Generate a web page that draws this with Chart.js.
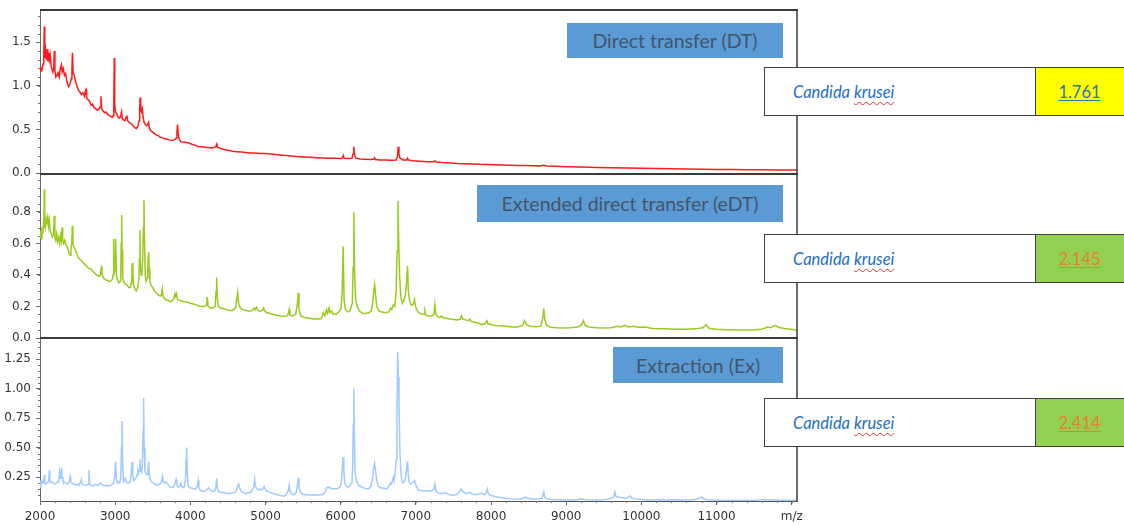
<!DOCTYPE html>
<html>
<head>
<meta charset="utf-8">
<script src="https://cdn.jsdelivr.net/npm/chart.js@4.4.1/dist/chart.umd.min.js"></script>
<style>
  body { margin: 0; background: #fff; width: 1124px; height: 526px; overflow: hidden; position: relative; font-family: Lato, "Open Sans", sans-serif; }
  canvas { position: absolute; left: 0; }
  .tag { position: absolute; background: #5b9bd5; color: #44546a; font-size: 19.5px; display: flex; align-items: center; justify-content: center; z-index: 2; }
  .result { position: absolute; left: 764px; width: 372px; height: 47px; border: 1.5px solid #3f3f3f; background: #fff; display: flex; z-index: 3; }
  .result .name { width: 242px; padding-left: 28px; border-right: 1.5px solid #3f3f3f; display: flex; align-items: center; font-style: italic; font-size: 16.5px; color: #1f6fc1; }
  .result .name span { text-decoration: underline wavy #e03030; text-decoration-thickness: 1px; text-underline-offset: 3px; }
  .result .score { flex: 1; display: flex; align-items: center; justify-content: center; font-size: 16.5px; text-decoration: underline; text-underline-offset: 2px; padding-right: 14px; }
</style>
</head>
<body>
<canvas id="c1" width="830" height="191" style="top:-4px"></canvas>
<canvas id="c2" width="830" height="192" style="top:160px"></canvas>
<canvas id="c3" width="830" height="202" style="top:324px"></canvas>

<script>
// m/z axis
const xMin = 2000, xMax = 12070;
const xTicks = [2000, 3000, 4000, 5000, 6000, 7000, 8000, 9000, 10000, 11000, 12000];
const xTickLabels = ['2000', '3000', '4000', '5000', '6000', '7000', '8000', '9000', '10000', '11000', 'm/z'];

// panel titles and identification results
const methodNames = ['Direct transfer (DT)', 'Extended direct transfer (eDT)', 'Extraction (Ex)'];
const speciesGenus = ['Candida', 'Candida', 'Candida'];
const speciesName = ['krusei', 'krusei', 'krusei'];
const scoreValues = ['1.761', '2.145', '2.414'];

// y ticks per panel
const yTicksDT = [0, 0.5, 1.0, 1.5];
const yTicksEDT = [0, 0.2, 0.4, 0.6, 0.8];
const yTicksEX = [0.25, 0.5, 0.75, 1.0, 1.25];

// spectra [m/z, intensity]
const dtSpectrum = [[2000,1.17],[2010,1.20],[2025,1.18],[2040,1.25],[2050,1.30],[2057,1.68],[2064,1.32],[2075,1.40],[2085,1.30],[2095,1.42],[2105,1.28],[2115,1.38],[2125,1.30],[2135,1.36],[2150,1.22],[2170,1.16],[2183,1.20],[2190,1.40],[2198,1.18],[2210,1.10],[2225,1.12],[2240,1.15],[2255,1.10],[2270,1.20],[2285,1.24],[2295,1.16],[2310,1.20],[2325,1.12],[2340,1.14],[2360,1.04],[2380,0.99],[2400,1.02],[2415,1.08],[2425,1.20],[2432,1.38],[2440,1.15],[2455,1.12],[2470,1.06],[2490,1.00],[2510,0.95],[2530,0.93],[2550,0.90],[2570,0.92],[2590,0.88],[2605,0.95],[2612,0.96],[2620,0.86],[2640,0.84],[2660,0.82],[2680,0.78],[2700,0.79],[2720,0.75],[2740,0.74],[2760,0.72],[2780,0.73],[2800,0.76],[2811,0.88],[2820,0.74],[2840,0.71],[2860,0.69],[2880,0.70],[2900,0.67],[2920,0.66],[2940,0.65],[2960,0.64],[2975,0.66],[2982,0.80],[2988,1.32],[2994,0.78],[3005,0.70],[3020,0.68],[3040,0.64],[3060,0.63],[3075,0.66],[3085,0.70],[3095,0.62],[3110,0.61],[3130,0.60],[3145,0.64],[3155,0.66],[3165,0.60],[3185,0.58],[3210,0.57],[3240,0.54],[3260,0.52],[3280,0.51],[3300,0.53],[3318,0.60],[3326,0.74],[3332,0.865],[3340,0.72],[3350,0.70],[3362,0.74],[3372,0.64],[3385,0.58],[3400,0.56],[3415,0.54],[3430,0.55],[3445,0.58],[3455,0.51],[3480,0.48],[3510,0.46],[3540,0.44],[3570,0.43],[3600,0.41],[3640,0.40],[3680,0.39],[3720,0.38],[3760,0.375],[3790,0.38],[3810,0.40],[3822,0.48],[3830,0.556],[3838,0.46],[3850,0.39],[3870,0.36],[3900,0.355],[3940,0.35],[3980,0.345],[4020,0.33],[4060,0.32],[4100,0.305],[4150,0.30],[4200,0.295],[4260,0.29],[4300,0.29],[4340,0.30],[4352,0.33],[4362,0.295],[4400,0.28],[4450,0.27],[4500,0.26],[4560,0.25],[4620,0.245],[4680,0.24],[4740,0.235],[4800,0.23],[4860,0.23],[4920,0.225],[4980,0.225],[5040,0.22],[5100,0.215],[5160,0.21],[5220,0.205],[5280,0.20],[5340,0.195],[5400,0.19],[5460,0.186],[5520,0.183],[5600,0.18],[5680,0.176],[5760,0.173],[5840,0.17],[5920,0.168],[5990,0.165],[6020,0.17],[6033,0.20],[6045,0.17],[6100,0.165],[6150,0.17],[6165,0.22],[6175,0.30],[6185,0.21],[6200,0.17],[6260,0.16],[6320,0.158],[6400,0.155],[6440,0.16],[6451,0.175],[6462,0.155],[6520,0.15],[6600,0.148],[6680,0.146],[6740,0.15],[6755,0.19],[6765,0.30],[6775,0.22],[6790,0.17],[6830,0.15],[6880,0.15],[6890,0.17],[6900,0.15],[6960,0.14],[7050,0.135],[7150,0.13],[7240,0.128],[7253,0.14],[7266,0.126],[7350,0.12],[7450,0.115],[7550,0.11],[7650,0.107],[7750,0.104],[7850,0.10],[7950,0.098],[8050,0.095],[8150,0.092],[8250,0.09],[8350,0.087],[8450,0.085],[8550,0.082],[8650,0.08],[8700,0.088],[8750,0.08],[8850,0.077],[9000,0.073],[9200,0.068],[9400,0.064],[9600,0.06],[9800,0.057],[10000,0.054],[10200,0.051],[10400,0.048],[10600,0.045],[10800,0.043],[11000,0.041],[11200,0.039],[11400,0.037],[11600,0.036],[11800,0.035],[12000,0.034],[12070,0.034]];

const edtSpectrum = [[2000,0.64],[2008,0.68],[2016,0.63],[2026,0.70],[2036,0.66],[2046,0.72],[2052,0.70],[2057,0.944],[2063,0.72],[2072,0.70],[2082,0.75],[2092,0.72],[2102,0.76],[2112,0.71],[2122,0.75],[2135,0.68],[2150,0.66],[2165,0.64],[2180,0.66],[2190,0.775],[2198,0.64],[2210,0.62],[2222,0.66],[2235,0.61],[2250,0.64],[2262,0.60],[2275,0.65],[2285,0.62],[2293,0.70],[2302,0.62],[2315,0.60],[2330,0.62],[2345,0.59],[2360,0.58],[2375,0.56],[2390,0.53],[2400,0.525],[2412,0.56],[2422,0.60],[2430,0.71],[2438,0.60],[2450,0.58],[2465,0.56],[2480,0.55],[2495,0.53],[2510,0.51],[2530,0.50],[2550,0.49],[2570,0.48],[2590,0.47],[2610,0.46],[2630,0.45],[2650,0.44],[2670,0.44],[2690,0.43],[2710,0.42],[2730,0.41],[2750,0.40],[2770,0.395],[2790,0.39],[2805,0.40],[2812,0.44],[2820,0.46],[2828,0.40],[2845,0.38],[2870,0.37],[2895,0.365],[2920,0.36],[2940,0.36],[2960,0.37],[2972,0.40],[2980,0.63],[2990,0.42],[2998,0.44],[3006,0.63],[3016,0.40],[3030,0.37],[3050,0.35],[3066,0.36],[3074,0.40],[3080,0.60],[3086,0.78],[3092,0.56],[3100,0.38],[3120,0.35],[3140,0.34],[3160,0.335],[3180,0.32],[3200,0.32],[3215,0.35],[3222,0.44],[3228,0.476],[3235,0.40],[3248,0.33],[3265,0.31],[3280,0.30],[3300,0.32],[3315,0.38],[3322,0.50],[3330,0.684],[3336,0.44],[3345,0.40],[3356,0.42],[3366,0.50],[3376,0.70],[3383,0.874],[3390,0.62],[3400,0.40],[3412,0.36],[3425,0.38],[3434,0.44],[3440,0.52],[3445,0.546],[3452,0.44],[3462,0.36],[3480,0.33],[3500,0.32],[3520,0.30],[3540,0.29],[3560,0.28],[3580,0.27],[3600,0.265],[3615,0.27],[3627,0.31],[3637,0.26],[3660,0.25],[3680,0.24],[3700,0.24],[3730,0.23],[3760,0.235],[3780,0.25],[3795,0.28],[3805,0.265],[3815,0.28],[3830,0.245],[3850,0.24],[3880,0.235],[3910,0.23],[3940,0.23],[3970,0.225],[4000,0.22],[4040,0.215],[4075,0.21],[4110,0.205],[4150,0.20],[4190,0.20],[4215,0.21],[4225,0.26],[4235,0.205],[4260,0.19],[4300,0.19],[4330,0.20],[4342,0.30],[4350,0.384],[4358,0.26],[4372,0.20],[4400,0.19],[4440,0.187],[4480,0.18],[4520,0.175],[4560,0.175],[4600,0.19],[4618,0.25],[4630,0.29],[4642,0.22],[4665,0.19],[4700,0.18],[4740,0.175],[4780,0.17],[4820,0.175],[4850,0.19],[4862,0.18],[4880,0.195],[4900,0.175],[4930,0.17],[4960,0.175],[4975,0.19],[4990,0.17],[5020,0.16],[5060,0.155],[5100,0.15],[5150,0.144],[5200,0.14],[5250,0.138],[5290,0.14],[5306,0.16],[5315,0.18],[5324,0.145],[5360,0.14],[5400,0.15],[5425,0.22],[5435,0.286],[5445,0.18],[5470,0.14],[5520,0.13],[5580,0.125],[5640,0.12],[5700,0.12],[5740,0.122],[5770,0.16],[5790,0.14],[5810,0.18],[5825,0.155],[5845,0.19],[5860,0.16],[5880,0.17],[5900,0.15],[5940,0.15],[5980,0.17],[6005,0.19],[6020,0.30],[6033,0.58],[6045,0.24],[6065,0.18],[6090,0.165],[6120,0.17],[6140,0.20],[6155,0.22],[6165,0.45],[6175,0.80],[6185,0.40],[6200,0.24],[6220,0.20],[6250,0.17],[6290,0.157],[6330,0.155],[6370,0.16],[6405,0.17],[6425,0.22],[6440,0.30],[6451,0.34],[6462,0.28],[6480,0.20],[6510,0.17],[6550,0.165],[6600,0.16],[6640,0.165],[6665,0.19],[6680,0.18],[6700,0.21],[6720,0.20],[6738,0.30],[6750,0.55],[6762,0.87],[6772,0.60],[6785,0.38],[6800,0.26],[6820,0.22],[6840,0.24],[6860,0.27],[6875,0.34],[6889,0.457],[6900,0.30],[6915,0.24],[6935,0.21],[6960,0.21],[6975,0.23],[6982,0.244],[6992,0.21],[7010,0.18],[7040,0.16],[7080,0.15],[7110,0.15],[7120,0.17],[7132,0.145],[7170,0.14],[7210,0.14],[7240,0.15],[7253,0.21],[7266,0.15],[7290,0.135],[7320,0.13],[7340,0.14],[7360,0.13],[7400,0.125],[7450,0.12],[7500,0.118],[7560,0.115],[7590,0.12],[7607,0.14],[7625,0.12],[7660,0.115],[7700,0.11],[7718,0.12],[7735,0.105],[7780,0.10],[7830,0.095],[7870,0.085],[7920,0.09],[7945,0.11],[7960,0.09],[8000,0.085],[8060,0.08],[8120,0.078],[8200,0.075],[8280,0.07],[8350,0.07],[8420,0.08],[8445,0.11],[8470,0.085],[8520,0.075],[8600,0.072],[8660,0.075],[8690,0.13],[8702,0.187],[8714,0.12],[8740,0.08],[8800,0.068],[8880,0.065],[8960,0.063],[9050,0.065],[9150,0.07],[9200,0.08],[9230,0.11],[9250,0.08],[9300,0.07],[9400,0.065],[9500,0.063],[9600,0.065],[9680,0.075],[9720,0.07],[9780,0.08],[9820,0.07],[9900,0.075],[9960,0.068],[10050,0.07],[10150,0.06],[10300,0.058],[10450,0.056],[10600,0.055],[10750,0.06],[10820,0.065],[10860,0.085],[10900,0.062],[11000,0.055],[11150,0.052],[11300,0.05],[11450,0.05],[11600,0.055],[11680,0.07],[11720,0.065],[11780,0.08],[11820,0.068],[11900,0.06],[11980,0.055],[12070,0.05]];

const exSpectrum = [[2000,0.22],[2010,0.19],[2020,0.21],[2030,0.20],[2040,0.22],[2050,0.21],[2057,0.27],[2064,0.21],[2075,0.19],[2090,0.20],[2105,0.20],[2117,0.23],[2124,0.307],[2131,0.22],[2145,0.20],[2160,0.21],[2180,0.20],[2200,0.19],[2220,0.20],[2240,0.21],[2252,0.24],[2260,0.29],[2268,0.24],[2278,0.26],[2286,0.33],[2294,0.25],[2305,0.22],[2320,0.21],[2340,0.20],[2360,0.19],[2380,0.20],[2393,0.22],[2400,0.25],[2408,0.21],[2425,0.20],[2445,0.19],[2465,0.19],[2480,0.18],[2500,0.19],[2520,0.18],[2540,0.21],[2550,0.23],[2560,0.19],[2580,0.185],[2600,0.18],[2620,0.18],[2640,0.19],[2651,0.31],[2660,0.19],[2680,0.18],[2700,0.175],[2720,0.18],[2740,0.19],[2760,0.18],[2780,0.185],[2800,0.20],[2820,0.19],[2840,0.18],[2860,0.175],[2880,0.18],[2900,0.175],[2920,0.175],[2940,0.18],[2960,0.19],[2980,0.20],[2995,0.26],[3006,0.38],[3016,0.24],[3030,0.20],[3045,0.21],[3060,0.20],[3075,0.25],[3083,0.50],[3090,0.725],[3098,0.40],[3110,0.21],[3125,0.22],[3135,0.24],[3148,0.21],[3165,0.20],[3185,0.20],[3205,0.22],[3215,0.30],[3225,0.38],[3234,0.26],[3248,0.22],[3262,0.23],[3280,0.25],[3292,0.27],[3300,0.307],[3310,0.28],[3320,0.31],[3330,0.40],[3340,0.30],[3350,0.29],[3362,0.35],[3372,0.65],[3378,0.92],[3386,0.50],[3396,0.30],[3410,0.28],[3425,0.27],[3436,0.30],[3445,0.38],[3454,0.28],[3466,0.23],[3485,0.21],[3505,0.20],[3530,0.19],[3550,0.18],[3570,0.19],[3595,0.19],[3615,0.21],[3630,0.26],[3642,0.21],[3660,0.20],[3680,0.21],[3700,0.19],[3720,0.17],[3740,0.165],[3760,0.16],[3780,0.17],[3798,0.20],[3810,0.23],[3822,0.18],[3840,0.165],[3860,0.17],[3875,0.20],[3888,0.17],[3905,0.16],[3920,0.17],[3935,0.22],[3943,0.40],[3950,0.50],[3958,0.30],[3970,0.18],[3990,0.16],[4020,0.155],[4050,0.15],[4080,0.155],[4098,0.19],[4105,0.22],[4114,0.16],[4135,0.135],[4160,0.13],[4190,0.13],[4215,0.14],[4240,0.16],[4262,0.14],[4290,0.13],[4320,0.13],[4340,0.16],[4350,0.24],[4360,0.15],[4380,0.125],[4410,0.12],[4440,0.12],[4470,0.115],[4500,0.11],[4530,0.11],[4560,0.115],[4590,0.12],[4615,0.14],[4630,0.17],[4642,0.19],[4655,0.16],[4675,0.13],[4700,0.12],[4725,0.11],[4750,0.11],[4775,0.12],[4800,0.12],[4825,0.14],[4845,0.17],[4855,0.23],[4866,0.17],[4885,0.15],[4905,0.14],[4925,0.15],[4945,0.14],[4965,0.15],[4980,0.17],[4995,0.15],[5015,0.13],[5040,0.125],[5070,0.12],[5100,0.11],[5130,0.105],[5160,0.10],[5190,0.095],[5220,0.09],[5250,0.09],[5275,0.10],[5290,0.12],[5305,0.14],[5315,0.18],[5326,0.13],[5345,0.11],[5370,0.10],[5390,0.11],[5410,0.12],[5425,0.19],[5435,0.245],[5445,0.16],[5465,0.12],[5490,0.105],[5520,0.10],[5560,0.10],[5600,0.098],[5650,0.10],[5700,0.098],[5750,0.10],[5790,0.115],[5815,0.16],[5830,0.165],[5850,0.16],[5870,0.155],[5890,0.15],[5920,0.15],[5950,0.15],[5980,0.16],[6000,0.18],[6015,0.25],[6025,0.36],[6033,0.42],[6042,0.30],[6055,0.20],[6075,0.17],[6095,0.165],[6115,0.17],[6135,0.19],[6150,0.20],[6160,0.35],[6168,0.70],[6175,1.00],[6183,0.55],[6192,0.28],[6210,0.22],[6235,0.18],[6265,0.17],[6300,0.16],[6340,0.15],[6370,0.15],[6400,0.17],[6420,0.22],[6438,0.32],[6451,0.364],[6464,0.30],[6480,0.22],[6500,0.17],[6530,0.16],[6570,0.155],[6610,0.15],[6640,0.17],[6660,0.20],[6675,0.19],[6690,0.22],[6700,0.25],[6712,0.22],[6725,0.28],[6738,0.40],[6748,0.75],[6758,1.31],[6766,1.10],[6775,0.90],[6785,0.55],[6795,0.35],[6810,0.24],[6825,0.20],[6845,0.21],[6865,0.25],[6880,0.34],[6889,0.384],[6898,0.28],[6910,0.21],[6930,0.19],[6950,0.20],[6970,0.21],[6982,0.22],[6995,0.19],[7015,0.16],[7040,0.14],[7080,0.135],[7110,0.13],[7150,0.135],[7200,0.13],[7235,0.14],[7253,0.194],[7268,0.13],[7290,0.12],[7320,0.11],[7360,0.11],[7390,0.12],[7410,0.11],[7450,0.10],[7500,0.095],[7540,0.10],[7575,0.12],[7600,0.15],[7620,0.13],[7660,0.11],[7690,0.115],[7720,0.12],[7745,0.105],[7780,0.10],[7820,0.105],[7850,0.11],[7880,0.11],[7910,0.10],[7935,0.11],[7950,0.15],[7965,0.11],[7990,0.095],[8030,0.09],[8080,0.08],[8140,0.075],[8200,0.07],[8260,0.065],[8320,0.062],[8380,0.063],[8430,0.07],[8458,0.08],[8490,0.07],[8550,0.065],[8620,0.063],[8680,0.07],[8702,0.122],[8715,0.075],[8750,0.065],[8800,0.06],[8880,0.058],[8960,0.056],[9050,0.055],[9120,0.055],[9180,0.062],[9210,0.066],[9250,0.058],[9330,0.055],[9420,0.055],[9500,0.058],[9560,0.065],[9600,0.07],[9630,0.08],[9647,0.122],[9662,0.085],[9700,0.08],[9740,0.075],[9780,0.07],[9820,0.075],[9850,0.09],[9870,0.072],[9920,0.065],[10000,0.06],[10080,0.055],[10160,0.055],[10240,0.058],[10320,0.055],[10400,0.055],[10480,0.057],[10560,0.055],[10640,0.056],[10720,0.06],[10770,0.07],[10800,0.08],[10830,0.066],[10880,0.058],[10950,0.055],[11050,0.053],[11150,0.052],[11250,0.052],[11350,0.053],[11450,0.052],[11550,0.055],[11630,0.06],[11700,0.056],[11800,0.055],[11900,0.054],[12000,0.053],[12070,0.053]];

const tickFont = { family: 'DejaVu Sans', size: 12 };

// frame (top + right border) and minor ticks
const framePlugin = {
  id: 'frame',
  afterDraw(chart, args, opts) {
    const { ctx, chartArea: a, scales } = chart;
    ctx.save();
    ctx.strokeStyle = '#3a3a3a';
    ctx.lineWidth = 2;
    ctx.beginPath(); ctx.moveTo(a.left, a.top); ctx.lineTo(a.right + 1, a.top); ctx.stroke();
    ctx.lineWidth = 1.5;
    ctx.beginPath(); ctx.moveTo(a.right, a.top); ctx.lineTo(a.right, a.bottom); ctx.stroke();
    ctx.strokeStyle = '#777';
    ctx.lineWidth = 1;
    ctx.beginPath();
    for (let v = scales.y.min; v <= scales.y.max; v += opts.yMinor) {
      const y = Math.round(scales.y.getPixelForValue(Math.round(v / opts.yMinor) * opts.yMinor)) + 0.5;
      if (y < a.top + 1 || y > a.bottom) continue;
      ctx.moveTo(a.left - 2, y); ctx.lineTo(a.left, y);
    }
    if (opts.xMinor) {
      for (let v = xMin; v <= xMax; v += opts.xMinor) {
        const x = Math.round(scales.x.getPixelForValue(v)) + 0.5;
        ctx.moveTo(x, a.bottom); ctx.lineTo(x, a.bottom + 2);
      }
    }
    ctx.stroke();
    ctx.restore();
  }
};

function makePanel(id, spectrum, color, yMin, yMax, yTicks, digits, yMinor, withX) {
  return new Chart(document.getElementById(id), {
    type: 'line',
    data: {
      datasets: [{
        data: spectrum.map(p => ({ x: p[0], y: p[1] })),
        borderColor: color,
        borderWidth: 1.5,
        pointRadius: 0,
        tension: 0
      }]
    },
    options: {
      responsive: false,
      animation: false,
      events: [],
      layout: { padding: { top: 14, right: 33, bottom: withX ? 0 : 14, left: 0 } },
      plugins: {
        legend: { display: false },
        tooltip: { enabled: false },
        frame: { yMinor: yMinor, xMinor: withX ? 200 : 0 }
      },
      scales: {
        x: {
          type: 'linear',
          min: xMin,
          max: xMax,
          display: withX,
          afterFit: s => { s.height = withX ? 25 : 0; },
          afterBuildTicks: s => { s.ticks = xTicks.map(v => ({ value: v })); },
          ticks: {
            font: tickFont,
            color: '#333',
            padding: 5,
            maxRotation: 0,
            autoSkip: false,
            callback: (v, i) => xTickLabels[i]
          },
          grid: { drawOnChartArea: false, tickLength: withX ? 4 : 0, color: '#666' },
          border: { color: '#555', width: 1 }
        },
        y: {
          min: yMin,
          max: yMax,
          afterFit: s => { s.width = 40; },
          afterBuildTicks: s => { s.ticks = yTicks.map(v => ({ value: v })); },
          ticks: {
            font: tickFont,
            color: '#333',
            padding: 5,
            callback: v => v.toFixed(digits)
          },
          grid: { drawOnChartArea: false, tickLength: 4, color: '#666' },
          border: { color: '#666', width: 1 }
        }
      }
    },
    plugins: [framePlugin]
  });
}

makePanel('c1', dtSpectrum, '#ff1a1a', 0, 1.87, yTicksDT, 1, 0.1, false);
makePanel('c2', edtSpectrum, '#9acb1c', 0, 1.04, yTicksEDT, 1, 0.05, false);
makePanel('c3', exSpectrum, '#9fcbff', 0.047, 1.43, yTicksEX, 2, 0.05, true);

// method tags inside the panels
const tagBoxes = [
  { left: 567, top: 23, width: 216, height: 35 },
  { left: 477, top: 185, width: 306, height: 37 },
  { left: 613, top: 347, width: 170, height: 36 }
];
tagBoxes.forEach((b, i) => {
  const d = document.createElement('div');
  d.className = 'tag';
  d.style.cssText = `left:${b.left}px;top:${b.top}px;width:${b.width}px;height:${b.height}px`;
  d.textContent = methodNames[i];
  document.body.appendChild(d);
});

// identification result boxes
const resultTops = [67, 234, 398];
const scoreFills = ['#ffff00', '#92d050', '#92d050'];
const scoreColors = ['#2e75b6', '#ed7d31', '#ed7d31'];
resultTops.forEach((t, i) => {
  const r = document.createElement('div');
  r.className = 'result';
  r.style.top = t + 'px';
  r.innerHTML = `<div class="name">${speciesGenus[i]}&nbsp;<span>${speciesName[i]}</span></div>` +
    `<div class="score" style="background:${scoreFills[i]};color:${scoreColors[i]}">${scoreValues[i]}</div>`;
  document.body.appendChild(r);
});
</script>
</body>
</html>
